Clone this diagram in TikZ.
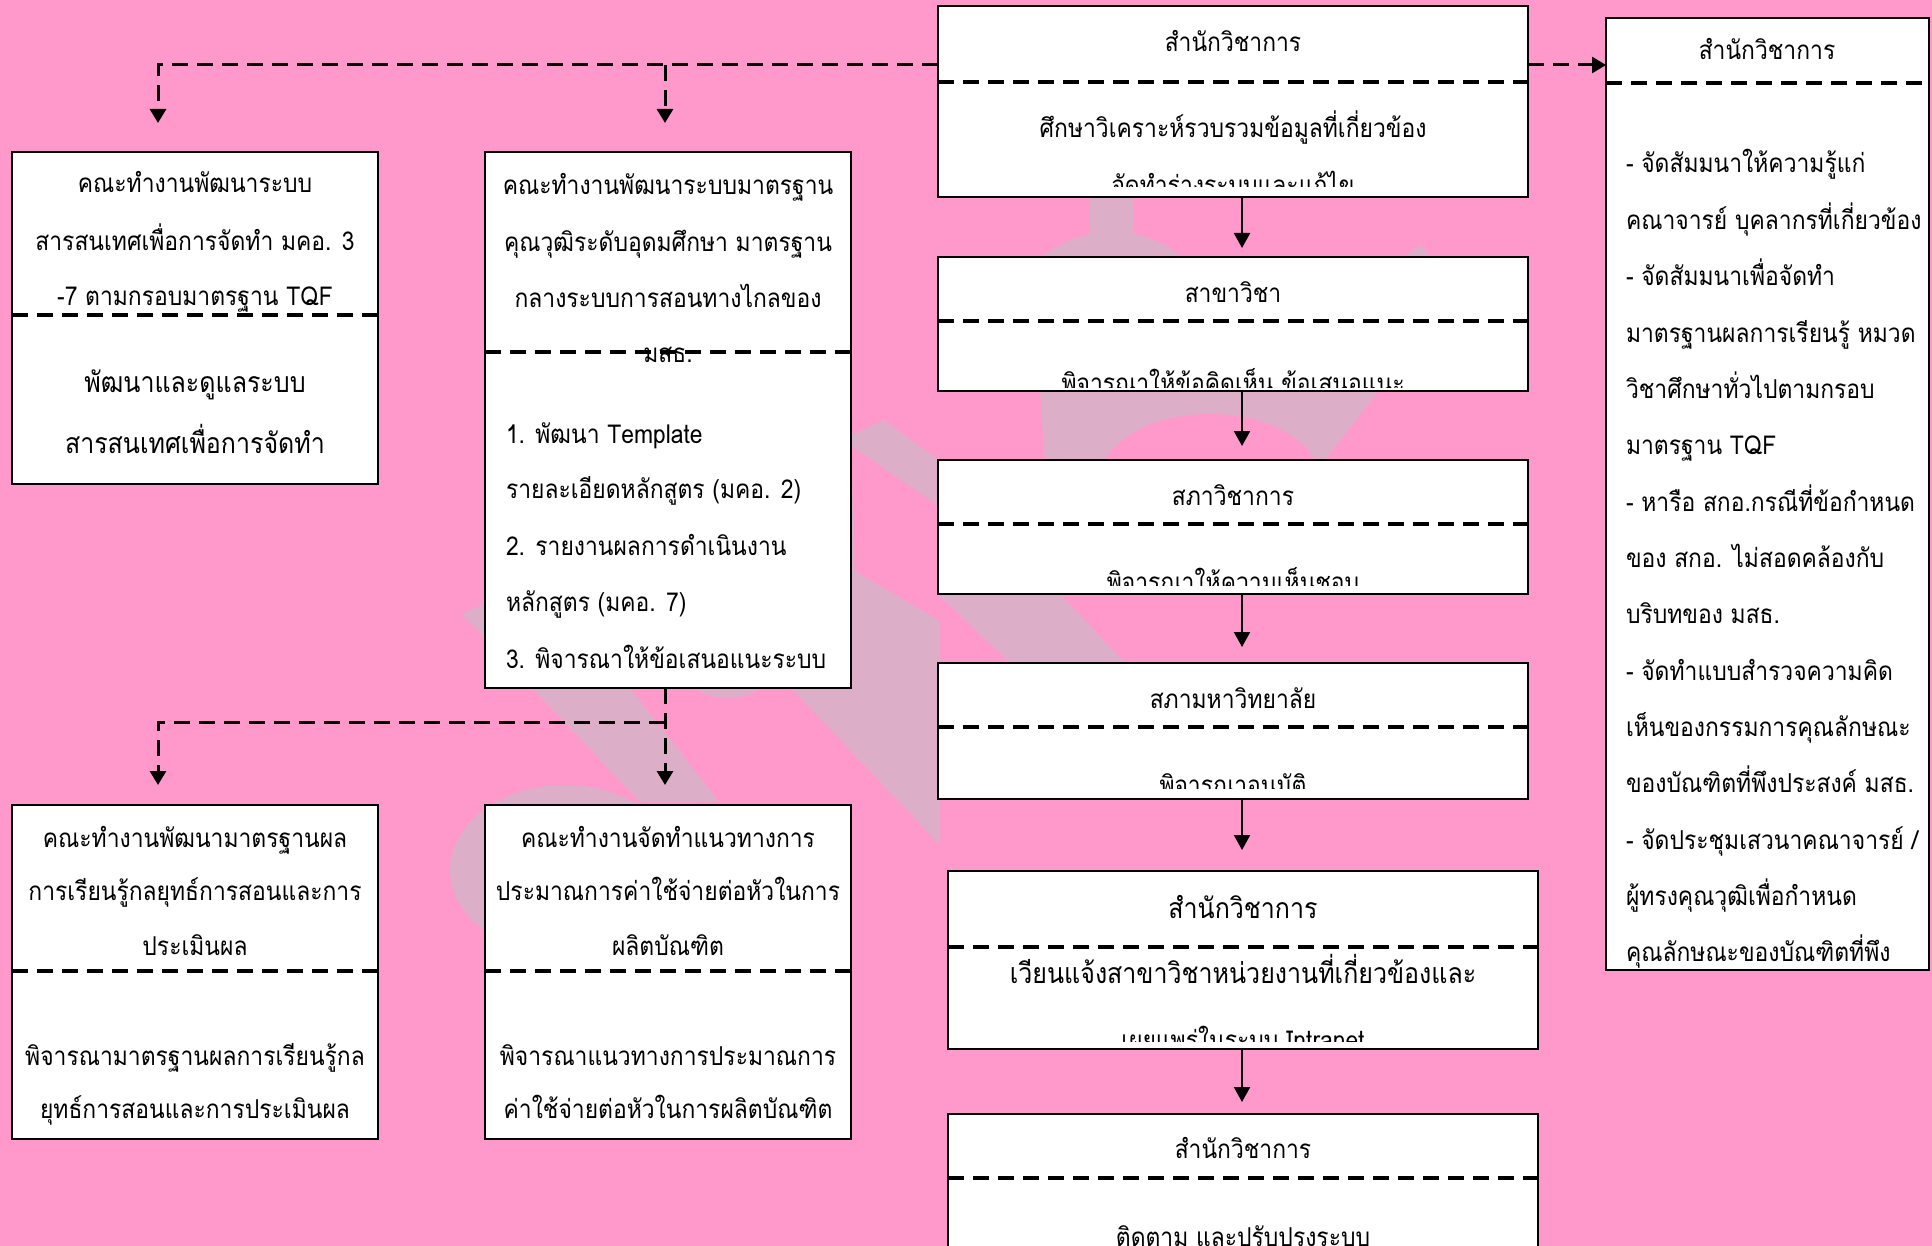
\documentclass[tikz,border=0pt]{standalone}
\usepackage{fontspec}
\newfontfamily\thaif[Script=Thai, FakeStretch=0.88]{Loma}
\usetikzlibrary{arrows.meta}
\definecolor{bgpink}{RGB}{255,153,204}
\definecolor{wm}{RGB}{221,174,199}
\begin{document}
\begin{tikzpicture}[x=0.5pt,y=-0.5pt,
  box/.style={draw=black, line width=1.3pt, fill=white, rectangle, inner sep=0pt, outer sep=0pt, anchor=north west},
  divider/.style={line width=1.6pt, dash pattern=on 8pt off 4.5pt},
  txt/.style={font=\thaif\fontsize{13}{15}\selectfont, inner sep=0pt, outer sep=0pt, anchor=base},
  ltxt/.style={txt, anchor=base west},
  bigtxt/.style={font=\thaif\fontsize{14.2}{17}\selectfont, inner sep=0pt, outer sep=0pt, anchor=base},
  arr/.style={line width=1.1pt, -{Triangle[width=8pt,length=7.5pt]}},
  dl/.style={line width=1.5pt, dash pattern=on 8pt off 4.5pt, -{Triangle[width=8pt,length=7pt]}}]
\useasboundingbox (0,0) rectangle (1932,1246);
\clip (0,0) rectangle (1932,1246);
\fill[bgpink] (0,0) rectangle (1932,1246);
% watermark
\fill[wm] (462,614) -- (884,420) -- (940,461) -- (940,845) -- (791,688) -- (700,600) -- (630,688) -- (719,802) -- (640,802) -- cycle;
\fill[bgpink] (851,446) -- (940,507) -- (940,621) -- (855,571) -- cycle;
\fill[wm] (728,660) ellipse [x radius=50, y radius=38];
\fill[wm] (565,870) ellipse [x radius=115, y radius=85];
\fill[wm] (1112,302) ellipse [x radius=90, y radius=70];
\fill[wm] (1090,190) rectangle (1134,245);
\fill[wm] (1405,257) -- (1420,244) -- (1430,257) -- cycle;
\fill[wm] (1040,391) -- (1378,391) -- (1325,461) -- (1045,461) -- cycle;
\fill[bgpink] (1210,480) ellipse [x radius=110, y radius=66];
\fill[wm] (938,594) -- (1060,594) -- (1125,663) -- (1010,663) -- cycle;
% boxes
\node[box, minimum width=183pt, minimum height=166pt] (a) at (12,152) {};
\node[box, minimum width=183pt, minimum height=268pt] (b) at (485,152) {};
\node[box, minimum width=183pt, minimum height=167pt] (d) at (12,805) {};
\node[box, minimum width=183pt, minimum height=167pt] (e) at (485,805) {};
\node[box, minimum width=295pt, minimum height=95.5pt] (c1) at (938,6) {};
\node[box, minimum width=295pt, minimum height=67pt] (c2) at (938,257) {};
\node[box, minimum width=295pt, minimum height=67pt] (c3) at (938,460) {};
\node[box, minimum width=295pt, minimum height=68pt] (c4) at (938,663) {};
\node[box, minimum width=295pt, minimum height=89pt] (c5) at (948,871) {};
\node[box, minimum width=295pt, minimum height=93pt] (c6) at (948,1114) {};
\node[box, minimum width=161.5pt, minimum height=476pt] (r) at (1606,18) {};
% texts box A
\node[txt] (a1) at (195,193) {คณะทำงานพัฒนาระบบ};
\node[txt] (a2) at (195,250) {สารสนเทศเพื่อการจัดทำ มคอ. 3};
\node[txt] (a3) at (195,306) {-7 ตามกรอบมาตรฐาน TQF};
\node[bigtxt] (a4) at (195,392) {พัฒนาและดูแลระบบ};
\node[bigtxt] (a5) at (195,453) {สารสนเทศเพื่อการจัดทำ};
% box B
\node[txt] (b1) at (668,195) {คณะทำงานพัฒนาระบบมาตรฐาน};
\node[txt] (b2) at (668,251) {คุณวุฒิระดับอุดมศึกษา มาตรฐาน};
\node[txt] (b3) at (668,307) {กลางระบบการสอนทางไกลของ};
\node[txt] (b4) at (668,362) {มสธ.};
\node[ltxt] (b5) at (506,443) {1. พัฒนา Template};
\node[ltxt] (b6) at (506,498) {รายละเอียดหลักสูตร (มคอ. 2)};
\node[ltxt] (b7) at (506,555) {2. รายงานผลการดำเนินงาน};
\node[ltxt] (b8) at (506,611) {หลักสูตร (มคอ. 7)};
\node[ltxt] (b9) at (506,668) {3. พิจารณาให้ข้อเสนอแนะระบบ};
% box D
\node[txt] (d1) at (195,847) {คณะทำงานพัฒนามาตรฐานผล};
\node[txt] (d2) at (195,900) {การเรียนรู้กลยุทธ์การสอนและการ};
\node[txt] (d3) at (195,955) {ประเมินผล};
\node[txt] (d4) at (195,1065) {พิจารณามาตรฐานผลการเรียนรู้กล};
\node[txt] (d5) at (195,1118) {ยุทธ์การสอนและการประเมินผล};
% box E
\node[txt] (e1) at (668,847) {คณะทำงานจัดทำแนวทางการ};
\node[txt] (e2) at (668,900) {ประมาณการค่าใช้จ่ายต่อหัวในการ};
\node[txt] (e3) at (668,955) {ผลิตบัณฑิต};
\node[txt] (e4) at (668,1065) {พิจารณาแนวทางการประมาณการ};
\node[txt] (e5) at (668,1118) {ค่าใช้จ่ายต่อหัวในการผลิตบัณฑิต};
% center column
\node[txt] (c1t) at (1233,52) {สำนักวิชาการ};
\node[txt] (c1b) at (1233,138) {ศึกษาวิเคราะห์รวบรวมข้อมูลที่เกี่ยวข้อง};
\begin{scope}\clip (938,150) rectangle (1528,187);
\node[txt] (c1c) at (1233,195) {จัดทำร่างระบบและแก้ไข};
\end{scope}
\node[txt] (c2t) at (1233,302) {สาขาวิชา};
\begin{scope}\clip (938,330) rectangle (1528,387);
\node[txt] (c2b) at (1233,392) {พิจารณาให้ข้อคิดเห็น ข้อเสนอแนะ};
\end{scope}
\node[txt] (c3t) at (1233,505) {สภาวิชาการ};
\begin{scope}\clip (938,530) rectangle (1528,585);
\node[txt] (c3b) at (1233,591) {พิจารณาให้ความเห็นชอบ};
\end{scope}
\node[txt] (c4t) at (1233,708) {สภามหาวิทยาลัย};
\begin{scope}\clip (938,730) rectangle (1528,788);
\node[txt] (c4b) at (1233,794) {พิจารณาอนุมัติ};
\end{scope}
\node[bigtxt] (c5t) at (1243,918) {สำนักวิชาการ};
\node[bigtxt] (c5b) at (1243,983) {เวียนแจ้งสาขาวิชาหน่วยงานที่เกี่ยวข้องและ};
\begin{scope}\clip (948,990) rectangle (1538,1041);
\node[txt] (c5c) at (1243,1049) {เผยแพร่ในระบบ Intranet};
\end{scope}
\node[txt] (c6t) at (1243,1158) {สำนักวิชาการ};
\node[txt] (c6b) at (1243,1246) {ติดตาม และปรับปรุงระบบ};
% right box
\node[txt] (rt) at (1767,60) {สำนักวิชาการ};
\begin{scope}\clip (1606,90) rectangle (1929,968);
\node[ltxt] (r1) at (1626,173) {- จัดสัมมนาให้ความรู้แก่};
\node[ltxt] (r2) at (1626,229.35) {คณาจารย์ บุคลากรที่เกี่ยวข้อง};
\node[ltxt] (r3) at (1626,285.7) {- จัดสัมมนาเพื่อจัดทำ};
\node[ltxt] (r4) at (1626,342.05) {มาตรฐานผลการเรียนรู้ หมวด};
\node[ltxt] (r5) at (1626,398.4) {วิชาศึกษาทั่วไปตามกรอบ};
\node[ltxt] (r6) at (1626,454.75) {มาตรฐาน TQF};
\node[ltxt] (r7) at (1626,511.1) {- หารือ สกอ.กรณีที่ข้อกำหนด};
\node[ltxt] (r8) at (1626,567.45) {ของ สกอ. ไม่สอดคล้องกับ};
\node[ltxt] (r9) at (1626,623.8) {บริบทของ มสธ.};
\node[ltxt] (r10) at (1626,680.15) {- จัดทำแบบสำรวจความคิด};
\node[ltxt] (r11) at (1626,736.5) {เห็นของกรรมการคุณลักษณะ};
\node[ltxt] (r12) at (1626,792.85) {ของบัณฑิตที่พึงประสงค์ มสธ.};
\node[ltxt] (r13) at (1626,849.2) {- จัดประชุมเสวนาคณาจารย์ /};
\node[ltxt] (r14) at (1626,905.55) {ผู้ทรงคุณวุฒิเพื่อกำหนด};
\node[ltxt] (r15) at (1626,961.9) {คุณลักษณะของบัณฑิตที่พึง};
\end{scope}
% dividers
\draw[divider] (12,315) -- (378,315);
\draw[divider] (485,352) -- (851,352);
\draw[divider] (12,971) -- (378,971);
\draw[divider] (485,971) -- (851,971);
\draw[divider] (938,82) -- (1528,82);
\draw[divider] (938,321) -- (1528,321);
\draw[divider] (938,524) -- (1528,524);
\draw[divider] (938,727) -- (1528,727);
\draw[divider] (948,947) -- (1538,947);
\draw[divider] (948,1178) -- (1538,1178);
\draw[divider] (1606,83) -- (1929,83);
% connectors
\coordinate (j1) at (665,65);
\coordinate (t1) at (158,123);
\coordinate (t2) at (665,123);
\coordinate (j2) at (665,722);
\coordinate (t3) at (158,785);
\coordinate (t4) at (665,785);
\coordinate (ax) at (1242,0);
\draw[dl] (c1.west |- j1) -| (t1);
\draw[dl] (j1) -- (t2);
\draw[dl] (c1.east |- j1) -- (r.west |- j1);
\draw[dl] (b.south -| j2) -- (t4);
\draw[dl] (j2) -| (t3);
\draw[arr, shorten >=4.5pt] (c1.south -| ax) -- (c2.north -| ax);
\draw[arr, shorten >=7pt] (c2.south -| ax) -- (c3.north -| ax);
\draw[arr, shorten >=8pt] (c3.south -| ax) -- (c4.north -| ax);
\draw[arr, shorten >=10.5pt] (c4.south -| ax) -- (c5.north -| ax);
\draw[arr, shorten >=6pt] (c5.south -| ax) -- (c6.north -| ax);
\end{tikzpicture}
\end{document}
